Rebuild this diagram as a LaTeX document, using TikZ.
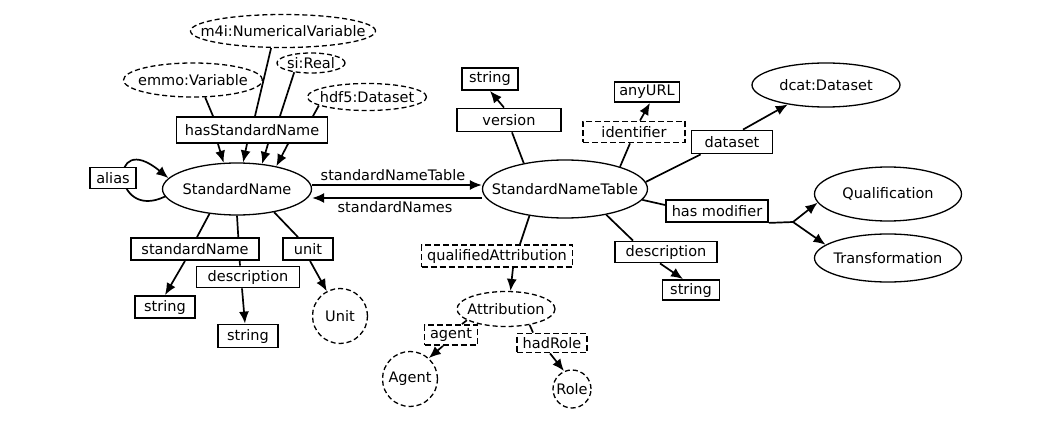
\documentclass[tikz,border=0pt]{standalone}
\usepackage{fontspec}
\setmainfont{DejaVu Sans}
\usetikzlibrary{shapes.geometric, arrows.meta, backgrounds}
\tikzstyle{every node}=[font=\fontsize{14.5}{17}\selectfont]
\newcommand{\nomcl}[1]{\makebox[0pt]{#1}}
\tikzset{
	boite/.style={draw, line width=1.8pt, fill=white, inner sep=0pt, minimum height=22pt},
	boited/.style={boite, dash pattern=on 6pt off 3pt},
	classe/.style={draw, ellipse, line width=1.3pt, fill=white, inner sep=0pt},
	classed/.style={classe, dash pattern=on 5pt off 3pt},
	cercled/.style={draw, circle, line width=1.3pt, dash pattern=on 5pt off 3pt, fill=white, inner sep=0pt},
	lien/.style={line width=1.7pt},
	fleche/.style={lien, -{Latex[length=12pt,width=10pt]}}
}

\begin{document}
\begin{tikzpicture}[x=1pt, y=-1pt]
	\useasboundingbox (0,0) rectangle (1063,425);
	
	% classes externes
	\node[classed, minimum width=185pt, minimum height=33pt] (m4i) at (283,31) {\nomcl{m4i:NumericalVariable}};
	\node[classed, minimum width=139pt, minimum height=34pt] (emmo) at (193,80) {\nomcl{emmo:Variable}};
	\node[classed, minimum width=68pt, minimum height=20pt] (si) at (311,63) {\nomcl{si:Real}};
	\node[classed, minimum width=119pt, minimum height=27pt] (hdf) at (367,97) {\nomcl{hdf5:Dataset}};
	\node[boite, minimum width=151pt, minimum height=26pt] (hsn) at (252,130) {hasStandardName};
	
	% StandardName
	\node[classe, minimum width=149pt, minimum height=52pt] (sn) at (237,189) {\nomcl{StandardName}};
	\node[boite, minimum width=46pt, minimum height=21pt] (alias) at (113,178) {alias};
	\node[boite, minimum width=128pt] (sname) at (195,249) {standardName};
	\node[boite, minimum width=50pt] (unit) at (308,249) {unit};
	\node[boite, minimum width=103pt, minimum height=21pt] (desc1) at (248,277) {description};
	\node[boite, minimum width=60pt] (str1) at (165,307) {string};
	\node[boite, minimum width=60pt, minimum height=23pt] (str2) at (248,336) {string};
	\node[cercled, minimum size=55pt] (unitc) at (340,316) {\nomcl{Unit}};
	
	% StandardNameTable
	\node[classe, minimum width=165pt, minimum height=58pt] (snt) at (565,189) {\nomcl{StandardNameTable}};
	\node (lsnt) at (393,175) {standardNameTable};
	\node (lsns) at (395,207) {standardNames};
	\node[boite, minimum width=104pt, minimum height=23pt] (version) at (509,120) {version};
	\node[boite, minimum width=56pt] (str3) at (490,79) {string};
	\node[boited, minimum width=102pt, minimum height=21pt] (ident) at (634,132) {identifier};
	\node[boite, minimum width=65pt, minimum height=20pt] (anyurl) at (647,92) {anyURL};
	\node[boite, minimum width=81pt, minimum height=23pt] (dataset) at (732,142) {dataset};
	\node[classe, minimum width=148pt, minimum height=44pt] (dcat) at (826,85) {\nomcl{dcat:Dataset}};
	\node[boite, minimum width=102pt] (hasmod) at (717,211) {has modifier};
	\node[classe, minimum width=147pt, minimum height=54pt] (qual) at (888,194) {\nomcl{Qualification}};
	\node[classe, minimum width=147pt, minimum height=48pt] (trans) at (888,258) {\nomcl{Transformation}};
	\coordinate (branche) at (793,222);
	\node[boite, minimum width=102pt, minimum height=21pt] (desc2) at (666,252) {description};
	\node[boite, minimum width=57pt, minimum height=20pt] (str4) at (691,290) {string};
	
	% attribution
	\node[boited, minimum width=151pt] (qa) at (497,256) {qualifiedAttribution};
	\node[classed, minimum width=98pt, minimum height=35pt] (attr) at (506,309) {\nomcl{Attribution}};
	\node[boited, minimum width=53pt, minimum height=20pt] (agent) at (451,335) {agent};
	\node[boited, minimum width=70pt, minimum height=19pt] (hadrole) at (552,343) {hadRole};
	\node[cercled, minimum size=55pt] (agentc) at (410,379) {\nomcl{Agent}};
	\node[cercled, minimum size=38pt] (rolec) at (572,389) {\nomcl{Role}};
	
	% liens
	\begin{scope}[on background layer]
		\draw[fleche] (emmo.305) -- ([xshift=-39pt]hsn.north) -- ([xshift=-34pt]hsn.south) -- (sn.117);
		\draw[fleche] (m4i.235) -- ([xshift=3pt]hsn.north) -- ([xshift=-5pt]hsn.south) -- (sn.77);
		\draw[fleche] (si.209) -- ([xshift=28pt]hsn.north) -- ([xshift=16pt]hsn.south) -- (sn.45);
		\draw[fleche] (hdf.190) -- ([xshift=61pt]hsn.north) -- ([xshift=36pt]hsn.south) -- (sn.30);
		\draw[fleche] (sn.186) .. controls (112,222) and (108,128) .. (sn.171);
		
		\draw[lien] (sn.222) -- ([xshift=2pt]sname.north);
		\draw[fleche] ([xshift=-10pt]sname.south) -- (str1.north);
		\draw[lien] (sn.south) -- ([xshift=-8pt]desc1.north);
		\draw[fleche] ([xshift=-6pt]desc1.south) -- ([xshift=-3pt]str2.north);
		\draw[lien] (sn.328) -- ([xshift=-10pt]unit.north);
		\draw[fleche] ([xshift=2pt]unit.south) -- (unitc.118);
		
		\draw[fleche] ([yshift=4pt]sn.east) -- ([yshift=4pt]snt.west);
		\draw[fleche] ([yshift=-9pt]snt.west) -- ([yshift=-9pt]sn.east);
		
		\draw[lien] (snt.148) -- ([xshift=3pt]version.south);
		\draw[fleche] ([xshift=-5pt]version.north) -- (str3.south);
		\draw[lien] (snt.22) -- ([xshift=-4pt]ident.south);
		\draw[fleche] ([xshift=6pt]ident.north) -- ([xshift=3pt]anyurl.south);
		\draw[lien] (snt.5) -- ([xshift=10pt]dataset.south west);
		\draw[fleche] ([xshift=11pt]dataset.north) -- (dcat.207);
		\draw[lien] (snt.352) -- ([yshift=6pt]hasmod.west);
		\draw[lien] (hasmod.south east) -- (branche);
		\draw[fleche] (branche) -- (qual.187);
		\draw[fleche] (branche) -- (trans.168);
		\draw[lien] (snt.328) -- ([xshift=-33pt]desc2.north);
		\draw[fleche] ([xshift=-6pt]desc2.south) -- ([xshift=-8pt]str4.north);
		
		\draw[lien] (snt.217) -- ([xshift=23pt]qa.north);
		\draw[fleche] ([xshift=16pt]qa.south) -- (attr.76);
		\draw[lien] (attr.196) -- ([xshift=11pt]agent.north);
		\draw[fleche] ([xshift=-8pt]agent.south) -- (agentc.48);
		\draw[lien] (attr.326) -- ([xshift=-19pt]hadrole.north);
		\draw[fleche] ([xshift=-2pt]hadrole.south) -- (rolec.114);
	\end{scope}
\end{tikzpicture}
\end{document}
